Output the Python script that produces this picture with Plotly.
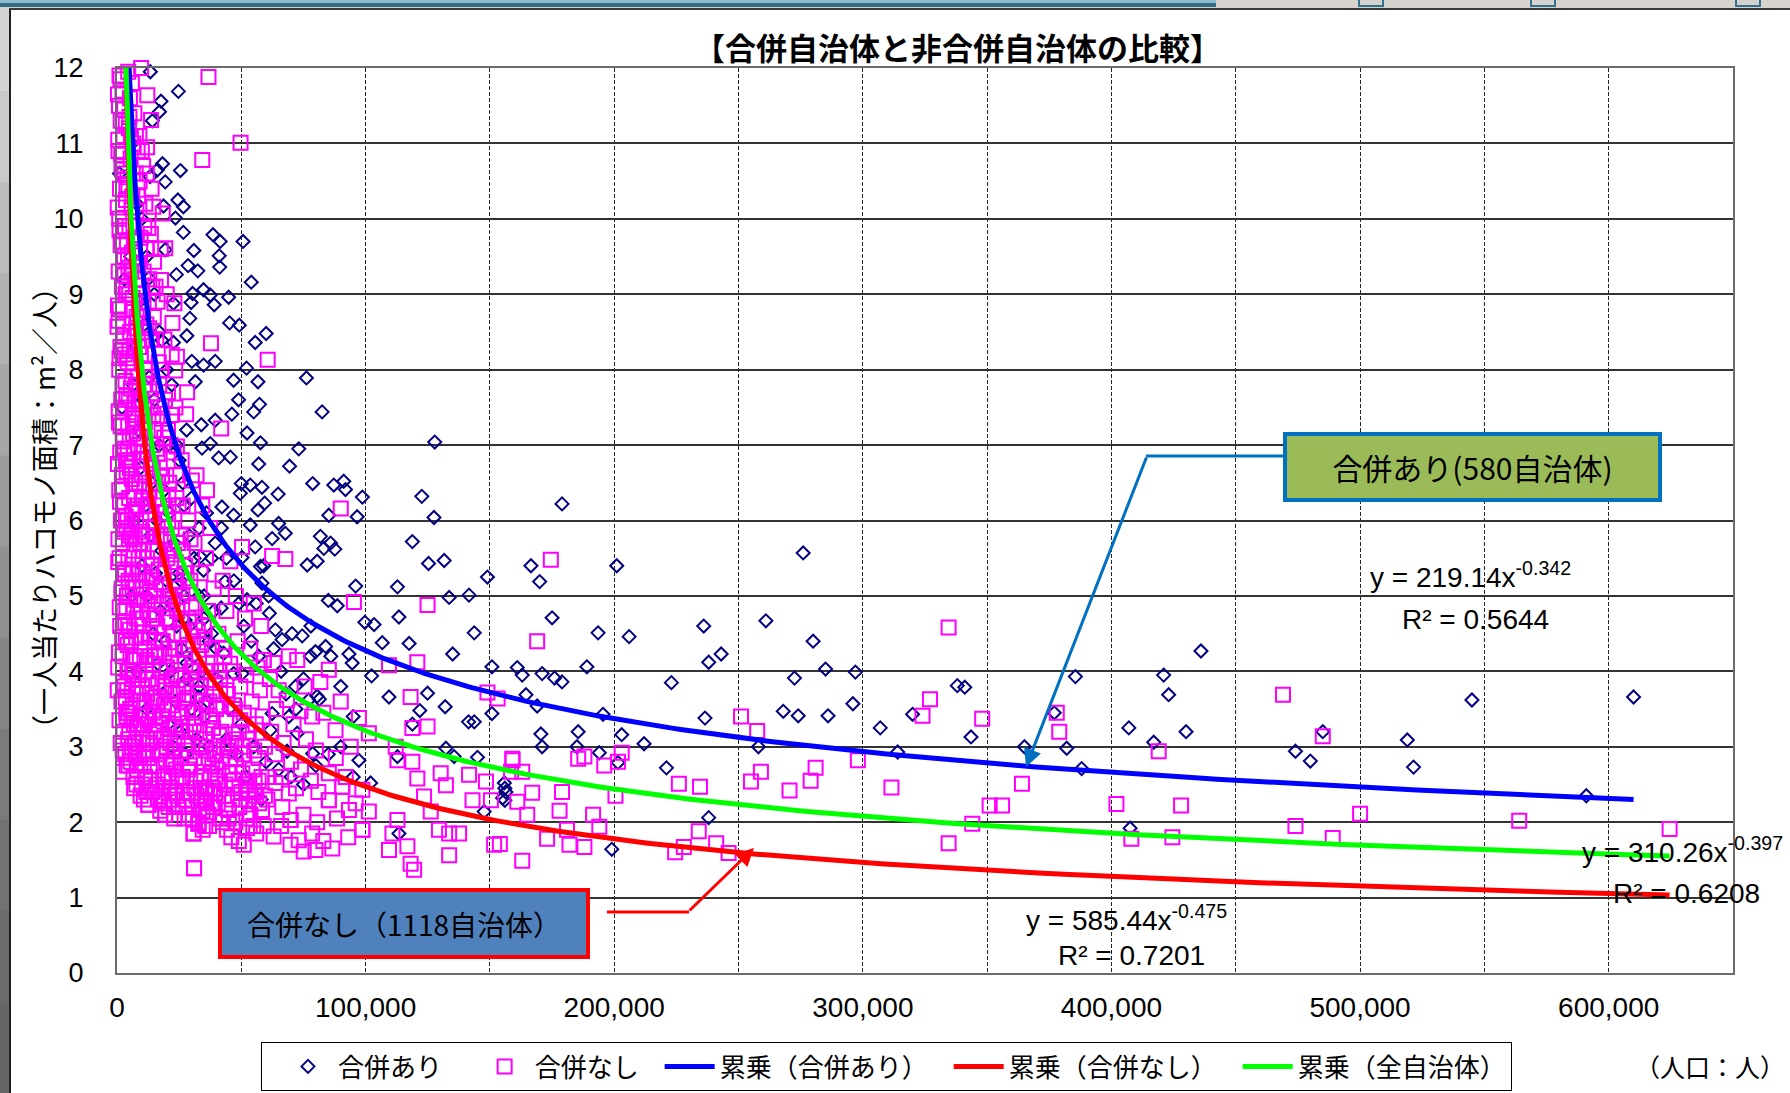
import numpy as np
import plotly.graph_objects as go

# ---------------------------------------------------------------------------
# Data: population (thousands of people) and building floor area per person (m2)
# ---------------------------------------------------------------------------

# municipalities that went through a merger (合併あり)
merged_core = [
    (6.0, 11.0), (8.0, 10.2), (5.5, 9.5), (9.0, 8.9), (7.5, 8.3), (11.0, 8.6), (6.5, 7.8), (10.5, 7.6),
    (13.0, 7.9), (8.5, 7.2), (12.5, 7.0), (15.0, 7.6), (9.5, 6.7), (14.0, 6.5), (17.0, 7.0), (11.5, 6.2),
    (16.0, 6.0), (19.0, 6.4), (13.5, 5.8), (18.0, 5.6), (21.0, 6.1), (10.0, 5.4), (15.5, 5.3), (20.0, 5.2),
    (23.0, 5.7), (12.0, 5.0), (17.5, 4.8), (22.0, 4.9), (25.0, 5.3), (14.5, 4.5), (19.5, 4.4), (24.0, 4.6),
    (27.0, 5.0), (16.5, 4.1), (21.5, 4.0), (26.0, 4.3), (29.0, 4.6), (18.5, 3.7), (23.5, 3.6), (28.0, 3.9),
    (31.0, 4.2), (20.5, 3.3), (25.5, 3.2), (30.0, 3.5), (33.0, 3.8), (22.5, 3.0), (27.5, 2.9), (32.0, 3.1),
    (35.0, 3.4), (37.0, 3.0), (12.0, 3.5), (8.0, 4.0), (6.0, 5.0), (7.0, 6.0), (24.0, 7.0), (26.5, 6.5),
    (22.0, 7.8), (28.0, 7.2), (30.0, 6.3), (33.0, 5.9), (36.0, 6.1), (38.0, 5.5), (35.0, 5.0), (39.0, 4.8),
    (37.0, 4.4), (34.0, 4.0), (36.5, 3.6), (40.0, 3.9), (45.0, 3.5), (50.0, 3.3), (55.0, 3.0), (60.0, 2.8),
    (52.0, 2.6), (65.0, 2.7), (70.0, 2.6), (75.0, 2.5), (80.0, 2.75), (85.0, 2.9), (90.0, 3.0), (95.0, 2.6),
    (58.0, 2.3), (48.0, 2.9), (44.0, 3.1),
    (10.0, 10.0), (12.0, 9.5), (15.0, 9.0), (17.0, 8.5), (20.0, 8.0), (21.0, 7.0), (25.0, 6.8), (27.0, 6.2),
    (29.0, 5.8), (31.0, 5.5), (33.0, 5.0), (35.0, 4.7), (38.0, 4.5), (40.0, 4.3), (42.0, 5.9), (44.0, 5.5),
    (47.0, 5.2), (49.0, 4.9), (51.0, 4.6), (54.0, 4.4), (56.0, 4.9), (59.0, 5.4), (61.0, 5.0), (63.0, 4.3),
    (66.0, 4.0), (68.0, 3.7), (72.0, 3.5), (75.0, 3.9), (78.0, 4.6), (86.0, 4.2), (90.0, 3.8), (95.0, 3.4),
    (1.0, 10.6), (2.0, 7.5), (3.0, 9.2),
]
merged_upper = [
    (13.4, 11.95), (24.7, 11.69), (17.7, 11.56), (17.1, 11.42), (14.2, 11.30), (18.3, 10.73), (25.5, 10.64),
    (16.3, 10.65), (19.4, 10.49), (13.3, 10.56), (24.5, 10.25), (26.7, 10.16), (18.7, 10.17), (23.5, 10.01),
    (26.7, 9.82), (38.6, 9.79), (41.5, 9.70), (50.7, 9.70), (30.9, 9.58), (19.4, 9.59), (41.1, 9.51),
    (41.3, 9.36), (28.6, 9.38), (32.5, 9.31), (23.9, 9.26), (54.0, 9.16), (12.8, 9.21), (30.4, 9.01),
    (34.8, 9.06), (37.5, 8.99), (39.1, 8.86), (44.9, 8.96), (29.8, 8.89), (22.7, 8.88), (45.3, 8.62),
    (49.2, 8.59), (29.3, 8.68), (60.0, 8.48), (55.6, 8.36), (28.1, 8.45), (22.7, 8.36), (18.0, 8.39),
    (39.5, 8.11), (34.8, 8.06), (30.1, 8.11), (52.1, 8.02), (46.9, 7.86), (56.7, 7.84), (31.5, 7.84),
    (76.2, 7.89), (48.9, 7.60), (57.3, 7.54), (55.0, 7.44), (46.2, 7.41), (82.5, 7.44), (39.5, 7.33),
    (33.9, 7.27), (52.3, 7.16), (57.7, 7.03), (73.1, 6.95), (127.8, 7.04), (69.4, 6.72), (57.0, 6.75),
    (45.6, 6.84), (40.9, 6.83), (37.5, 7.02), (34.2, 6.96), (78.7, 6.49), (87.2, 6.47), (91.2, 6.52),
    (91.9, 6.41), (98.7, 6.31), (64.8, 6.35), (58.3, 6.44), (53.6, 6.47), (50.0, 6.49), (122.6, 6.32),
    (59.4, 6.23), (49.6, 6.36), (42.2, 6.18), (46.9, 6.07), (85.2, 6.07), (96.6, 6.05), (127.5, 6.04),
]
merged_mid = [
    (56.7, 6.14), (65.0, 5.96), (53.6, 5.94), (67.7, 5.83), (62.4, 5.76), (55.6, 5.65), (81.8, 5.79),
    (85.9, 5.70), (83.2, 5.63), (87.6, 5.62), (76.5, 5.41), (80.5, 5.46), (118.8, 5.72), (125.3, 5.43),
    (131.6, 5.47), (149.0, 5.25), (96.0, 5.13), (112.8, 5.12), (85.0, 4.94), (88.6, 4.87), (99.7, 4.65),
    (103.4, 4.62), (113.4, 4.72), (133.6, 4.98), (141.6, 5.01), (143.7, 4.51), (106.7, 4.38), (117.5, 4.37),
    (135.0, 4.23), (150.8, 4.06), (102.4, 3.94), (109.4, 3.66), (124.9, 3.71), (132.0, 3.53), (143.7, 3.33),
    (150.8, 3.44), (121.8, 3.48), (118.8, 3.30), (94.6, 4.11), (93.3, 4.23), (80.5, 3.67), (83.9, 4.33),
    (79.8, 4.26), (77.8, 4.20), (70.4, 4.50), (74.5, 4.47), (63.7, 4.55), (66.4, 4.42), (71.8, 3.80),
    (77.1, 3.62), (81.4, 3.63), (78.7, 2.91), (141.4, 3.33), (155.8, 2.52), (156.4, 2.40), (155.1, 2.32),
    (147.7, 2.14), (135.6, 2.87), (132.3, 2.98), (145.0, 2.86), (97.3, 2.82), (102.0, 2.52), (112.8, 2.87),
    (113.4, 1.85), (58.3, 5.17), (52.3, 4.95), (61.3, 4.77), (43.5, 5.19), (41.9, 4.84), (57.7, 5.39),
    (50.3, 5.51), (39.5, 5.70), (33.5, 5.52), (34.8, 5.34), (57.0, 4.20), (50.3, 3.97), (69.1, 3.40),
    (62.4, 3.44), (61.7, 3.22), (68.4, 2.94), (72.5, 3.18), (32.8, 3.66), (28.1, 4.11), (27.4, 4.68),
    (25.4, 5.21), (42.9, 4.24), (46.9, 3.97),
]
merged_large = [
    (179.0, 6.22), (276.0, 5.57), (166.5, 5.40), (170.0, 5.19), (201.0, 5.40), (175.0, 4.71), (193.5, 4.51),
    (206.0, 4.46), (236.0, 4.60), (261.0, 4.67), (280.0, 4.40), (238.0, 4.12), (243.0, 4.23), (161.0, 4.05),
    (163.0, 3.95), (171.0, 3.97), (176.0, 3.91), (179.0, 3.86), (189.0, 4.06), (223.0, 3.85), (285.0, 4.03),
    (297.0, 3.99), (272.5, 3.91), (164.5, 3.69), (169.0, 3.54), (195.5, 3.43), (236.5, 3.38), (268.0, 3.47),
    (274.0, 3.41), (286.0, 3.41), (296.0, 3.57), (307.0, 3.25), (320.0, 3.43), (338.0, 3.81), (341.0, 3.79),
    (385.5, 3.93), (343.5, 3.13), (421.0, 3.95), (423.0, 3.69), (436.0, 4.27), (407.0, 3.25), (430.0, 3.20),
    (417.0, 3.06), (377.0, 3.45), (365.0, 3.00), (382.0, 2.98), (388.0, 2.71), (314.0, 2.93), (170.5, 3.17),
    (171.0, 3.00), (185.5, 3.20), (185.0, 3.00), (203.0, 3.16), (212.0, 3.04), (194.0, 2.92), (201.5, 2.79),
    (258.0, 3.00), (221.0, 2.72), (156.0, 2.45), (156.0, 2.29), (238.0, 2.06), (199.0, 1.64), (407.5, 1.92),
    (474.0, 2.94), (480.0, 2.81), (485.0, 3.20), (519.0, 3.09), (521.5, 2.73), (545.0, 3.62), (610.0, 3.66),
    (591.0, 2.35),
]

# municipalities without a merger (合併なし)
unmerged_small = [
    (1.0, 11.9), (2.2, 11.7), (0.8, 11.5), (1.5, 11.3), (2.6, 11.1), (0.6, 10.9), (1.8, 10.7), (3.0, 10.6),
    (1.2, 10.4), (2.4, 10.2), (0.9, 10.0), (3.2, 9.9), (1.6, 9.7), (2.8, 9.5), (0.7, 9.3), (2.0, 9.1),
    (3.4, 9.0), (1.1, 8.8), (0.2, 8.57), (2.5, 8.6), (1.4, 8.3), (3.1, 8.2), (0.9, 8.0), (2.2, 7.8),
    (1.7, 7.6), (3.3, 7.5), (0.8, 7.3), (2.6, 7.1), (1.3, 6.9), (3.6, 6.8), (2.0, 6.6), (0.9, 6.4),
    (2.9, 6.2), (1.6, 6.0), (3.8, 5.9), (2.3, 5.7), (1.0, 5.5), (3.2, 5.3), (1.9, 5.1), (4.0, 5.0),
    (2.7, 4.8), (1.3, 4.6), (3.5, 4.4), (2.2, 4.2), (4.2, 4.0), (3.0, 3.8), (1.8, 3.6), (3.9, 3.4),
    (2.6, 3.2), (4.5, 3.1), (3.3, 2.9), (2.5, 2.67),
    (4.5, 11.95), (6.0, 11.8), (5.2, 11.6), (7.0, 11.4), (4.8, 11.2), (6.5, 11.0), (5.5, 10.8), (7.5, 10.6),
    (4.6, 10.4), (6.2, 10.3), (7.8, 10.1), (5.0, 9.9), (6.8, 9.7), (4.4, 9.5), (5.8, 9.3), (7.3, 9.2),
    (4.9, 9.0), (6.4, 8.8), (7.9, 8.7), (5.3, 8.5), (6.9, 8.3), (4.3, 8.1), (5.9, 7.9), (7.6, 7.8),
    (4.7, 7.6), (6.3, 7.4), (7.9, 7.3), (5.1, 7.1), (6.7, 6.9), (4.4, 6.8), (5.7, 6.6), (7.3, 6.5),
    (4.9, 6.3), (6.1, 6.1), (7.7, 6.0), (5.4, 5.8), (6.9, 5.6), (4.6, 5.5), (5.9, 5.3), (7.5, 5.2),
    (5.0, 5.0), (6.5, 4.8), (7.9, 4.7), (4.5, 4.6), (5.6, 4.4), (7.1, 4.2), (4.8, 4.0), (6.2, 3.9),
    (7.6, 3.7), (5.3, 3.5), (6.8, 3.3), (4.9, 3.2), (6.0, 3.0), (7.4, 2.9), (5.5, 2.8), (6.6, 2.6),
]
unmerged_dense = [
    (1.4, 11.85), (2.9, 11.45), (0.5, 11.05), (2.1, 10.65), (3.6, 10.25), (1.0, 9.85), (2.5, 9.45),
    (3.9, 9.05), (0.6, 8.65), (1.9, 8.25), (3.4, 7.85), (0.7, 7.45), (2.3, 7.05), (3.9, 6.65), (1.2, 6.25),
    (2.8, 5.85), (0.5, 5.45), (1.8, 5.05), (3.3, 4.65), (0.8, 4.25), (2.4, 3.85), (3.7, 3.45), (1.5, 3.05),
    (5.0, 11.35), (6.7, 10.95), (4.2, 10.55), (5.9, 10.15), (7.3, 9.75), (4.6, 9.35), (6.3, 8.95),
    (7.7, 8.55), (4.1, 8.15), (5.6, 7.75), (7.2, 7.35), (4.3, 6.95), (6.0, 6.55), (7.6, 6.15), (4.8, 5.75),
    (6.4, 5.35), (7.8, 4.95), (5.2, 4.55), (6.6, 4.15), (4.1, 3.75), (5.8, 3.35), (7.2, 3.05), (4.6, 2.75),
    (6.9, 2.45), (8.0, 2.7),
    (9.1, 10.5), (11.4, 10.2), (13.6, 9.8), (8.4, 9.4), (10.7, 9.3), (12.8, 8.9), (14.8, 8.7), (9.9, 8.5),
    (11.9, 8.2), (13.9, 7.9), (8.3, 7.9), (10.3, 7.4), (12.3, 7.2), (14.4, 6.7), (9.1, 6.8), (11.0, 6.45),
    (13.2, 6.1), (15.0, 6.3), (8.2, 6.2), (10.1, 5.85), (12.1, 5.5), (14.1, 5.25), (9.0, 5.3), (11.0, 4.95),
    (13.0, 4.75), (15.0, 4.4), (8.4, 4.95), (10.0, 4.45), (12.0, 4.15), (14.0, 3.9), (9.0, 3.95),
    (11.0, 3.6), (13.0, 3.35), (15.0, 3.65), (8.5, 3.3), (10.4, 3.1), (12.4, 2.85), (14.4, 2.95),
    (9.4, 2.75), (11.8, 2.4), (13.8, 2.55), (10.8, 2.3),
    (16.8, 8.1), (19.3, 7.6), (21.5, 7.0), (23.8, 6.6), (16.0, 6.95), (18.3, 6.3), (20.6, 6.0), (22.9, 5.55),
    (24.9, 5.1), (16.8, 5.35), (19.0, 5.0), (21.2, 4.65), (23.4, 4.3), (15.8, 4.75), (17.9, 4.4),
    (20.1, 4.05), (22.3, 3.75), (24.5, 3.45), (16.6, 3.85), (18.8, 3.55), (21.0, 3.25), (23.2, 2.95),
    (15.4, 3.4), (17.6, 3.1), (19.8, 2.8), (22.0, 2.55), (24.2, 2.35), (16.4, 2.75), (18.6, 2.45),
    (20.8, 2.2), (23.0, 2.05), (17.4, 2.15),
    (26.5, 5.6), (28.9, 5.05), (31.4, 4.65), (33.9, 4.35), (36.4, 4.1), (38.9, 3.7), (26.0, 4.7),
    (28.5, 4.35), (31.0, 4.05), (33.5, 3.8), (36.0, 3.55), (38.5, 3.35), (25.8, 3.95), (28.3, 3.65),
    (30.8, 3.45), (33.3, 3.2), (35.8, 2.95), (38.3, 2.75), (26.2, 3.4), (28.7, 3.05), (31.2, 2.85),
    (33.7, 2.6), (36.2, 2.4), (38.7, 2.2), (27.0, 2.3), (29.5, 2.55), (32.0, 2.35), (34.5, 2.15),
    (37.0, 1.95), (29.0, 2.1),
    (41.2, 4.0), (44.0, 3.75), (46.8, 3.55), (49.6, 3.35), (52.4, 3.2), (55.2, 2.95), (42.0, 3.2),
    (44.8, 3.0), (47.6, 2.85), (50.4, 2.65), (53.2, 2.55), (56.0, 2.35), (40.8, 2.7), (43.6, 2.5),
    (46.4, 2.3), (49.2, 2.2), (52.0, 2.05), (54.8, 1.95), (46.0, 1.8), (51.0, 1.7), (57.0, 2.55),
    (59.5, 2.35),
]
unmerged_fill = [
    (0.4, 11.65), (3.5, 11.25), (1.7, 10.85), (3.8, 10.45), (0.3, 10.15), (1.5, 9.65), (3.0, 9.25),
    (0.4, 8.85), (2.7, 8.45), (1.0, 8.15), (3.7, 7.65), (1.5, 7.25), (3.0, 6.95), (0.4, 6.75), (2.0, 6.45),
    (3.5, 6.05), (0.6, 5.75), (2.6, 5.35), (3.8, 4.85), (1.1, 4.85), (2.1, 4.45), (0.5, 4.05), (3.5, 3.65),
    (1.0, 3.35), (2.3, 2.95), (3.9, 2.75), (0.3, 3.75),
    (5.6, 11.1), (7.6, 11.1), (4.0, 9.7), (6.0, 9.55), (7.0, 8.45), (5.0, 8.25), (7.0, 7.55), (4.5, 7.25),
    (6.5, 7.15), (5.2, 6.7), (7.0, 6.3), (4.2, 6.0), (5.9, 5.95), (7.2, 5.75), (4.7, 5.2), (6.3, 5.1),
    (7.7, 4.45), (5.4, 4.2), (4.3, 4.35), (6.9, 3.95), (4.5, 3.45), (6.3, 3.55), (7.9, 3.25), (5.1, 2.95),
    (7.8, 2.5),
    (8.3, 10.9), (10.0, 10.9), (12.0, 10.6), (13.9, 10.4), (9.5, 9.75), (11.8, 9.6), (14.2, 9.1), (10.5, 8.7),
    (12.9, 8.55), (8.9, 8.3), (11.2, 8.0), (13.0, 7.75), (9.8, 7.6), (11.9, 7.5), (14.6, 7.4), (8.4, 7.0),
    (10.8, 6.9), (13.7, 6.75), (9.9, 6.3), (12.5, 6.2), (14.4, 5.6), (9.3, 5.7), (11.6, 5.8), (13.3, 5.05),
    (10.3, 5.3), (12.7, 4.45), (9.7, 4.8), (14.8, 4.7), (11.5, 4.0), (13.5, 4.2), (9.6, 3.6), (12.1, 3.7),
    (14.5, 3.45), (10.8, 3.3), (13.2, 3.05), (8.8, 3.05), (11.5, 2.9), (13.0, 2.45), (9.5, 2.35),
    (17.6, 9.6), (20.0, 9.0), (15.5, 9.1), (22.0, 8.2), (19.1, 8.4), (17.0, 7.8), (23.5, 7.5), (20.5, 7.2),
    (18.3, 7.35), (16.5, 6.5), (22.5, 6.2), (19.8, 6.6), (24.8, 6.2), (17.6, 6.1), (21.4, 5.6), (19.2, 5.75),
    (16.0, 5.8), (23.6, 5.45), (18.0, 5.15), (20.2, 4.9), (22.4, 4.95), (16.9, 4.2), (19.1, 4.25),
    (21.5, 4.2), (23.8, 3.95), (17.5, 3.65), (19.9, 3.75), (22.1, 3.55), (24.6, 3.7), (16.8, 3.3),
    (19.0, 3.15), (21.4, 3.05), (23.6, 3.25), (18.1, 2.95), (20.5, 2.65), (22.7, 2.75), (24.8, 2.6),
    (16.6, 2.3), (19.0, 2.25), (21.4, 2.45), (23.7, 2.4),
    (26.4, 6.2), (29.6, 5.75), (27.0, 5.3), (30.0, 4.85), (32.5, 4.55), (35.2, 4.45), (37.8, 4.0),
    (27.2, 4.3), (29.6, 4.0), (32.1, 3.9), (34.6, 3.6), (37.3, 3.4), (39.8, 3.5), (27.0, 3.6), (29.4, 3.2),
    (31.9, 3.2), (34.4, 3.0), (36.9, 2.85), (39.6, 2.6), (26.0, 2.85), (28.6, 2.7), (31.1, 2.45),
    (33.6, 2.45), (36.1, 2.25), (38.6, 2.45), (40.5, 2.25), (42.7, 2.0), (28.0, 2.2), (30.5, 2.05),
    (33.0, 2.1), (35.5, 1.95), (41.5, 3.7), (43.0, 3.0), (45.5, 2.85), (42.5, 4.3), (45.5, 4.1), (48.0, 3.1),
    (50.5, 3.0), (47.0, 2.55), (53.0, 2.3), (45.0, 2.05), (50.0, 2.4),
]
unmerged_town = [
    (9.7, 12.0), (12.2, 11.64), (13.7, 11.31), (12.1, 10.95), (9.0, 11.1), (10.5, 10.7), (14.6, 10.16),
    (12.6, 9.88), (14.9, 9.43), (8.5, 10.3), (11.0, 9.9), (9.3, 9.6), (13.0, 9.2), (10.2, 9.0), (8.8, 8.8),
    (11.8, 8.6), (14.0, 8.4), (9.6, 8.2), (12.4, 8.0), (10.8, 7.8), (8.6, 7.6), (13.5, 7.5), (11.2, 7.3),
    (9.4, 7.1), (14.3, 7.0), (12.0, 6.8), (10.0, 6.6), (8.9, 6.5), (13.1, 6.4), (11.5, 6.2), (9.8, 6.0),
    (14.6, 5.9), (12.7, 5.8), (10.6, 5.6), (8.7, 5.5), (13.8, 5.4), (11.9, 5.2), (9.5, 5.1), (14.8, 5.0),
    (12.3, 4.9), (10.4, 4.7), (8.8, 4.6), (13.4, 4.5), (11.1, 4.3), (9.2, 4.2), (14.4, 4.1), (12.6, 3.9),
    (10.1, 3.8), (8.6, 3.7), (13.9, 3.6), (11.6, 3.4), (9.7, 3.3), (14.7, 3.2), (12.2, 3.1), (10.6, 2.95),
    (8.9, 2.85), (13.2, 2.75), (11.3, 2.6), (9.9, 2.5), (12.6, 2.23), (14.2, 2.4),
    (18.4, 10.07), (19.4, 9.61), (17.7, 9.19), (16.3, 8.9), (23.1, 8.88), (22.3, 8.62), (15.8, 8.4),
    (24.1, 8.17), (23.4, 7.99), (18.0, 8.0), (20.5, 7.7), (16.5, 7.5), (21.8, 7.4), (24.1, 6.98),
    (16.3, 6.89), (18.0, 6.58), (20.7, 6.34), (15.5, 7.2), (19.0, 7.1), (22.8, 6.9), (17.2, 6.7),
    (21.0, 6.5), (23.9, 6.3), (15.9, 6.2), (19.6, 6.1), (22.0, 5.9), (17.6, 5.8), (24.5, 5.7), (16.4, 5.6),
    (20.2, 5.5), (18.8, 5.3), (23.0, 5.2), (15.6, 5.1), (21.4, 5.0), (17.9, 4.9), (24.2, 4.8), (19.7, 4.7),
    (16.2, 4.6), (22.6, 4.5), (18.4, 4.4), (20.9, 4.3), (15.4, 4.2), (24.7, 4.1), (17.3, 4.0), (21.8, 3.9),
    (19.1, 3.8), (23.5, 3.7), (16.0, 3.6), (20.4, 3.5), (18.1, 3.4), (22.9, 3.3), (15.8, 3.2), (24.4, 3.1),
    (19.8, 3.0), (17.0, 2.9), (21.6, 2.8), (23.8, 2.7), (18.6, 2.6), (16.3, 2.5), (20.8, 2.4), (22.4, 2.3),
    (19.4, 2.1), (24.8, 2.2), (17.5, 2.35),
]
unmerged_city = [
    (36.8, 11.88), (49.7, 11.01), (34.3, 10.78), (37.8, 8.35), (41.9, 7.22),
    (28.2, 7.70), (27.8, 7.41), (30.1, 6.53), (36.2, 6.40), (26.0, 6.8), (32.0, 6.6), (34.3, 6.2),
    (28.7, 6.0), (37.5, 5.9), (25.6, 5.8), (31.2, 5.7), (35.8, 5.5), (27.4, 5.4), (33.6, 5.3), (29.5, 5.2),
    (38.9, 5.1), (26.3, 5.0), (31.8, 4.9), (36.7, 4.8), (28.8, 4.7), (34.9, 4.6), (25.9, 4.5), (30.6, 4.4),
    (38.2, 4.3), (33.0, 4.2), (27.5, 4.1), (35.7, 4.0), (29.9, 3.9), (39.5, 3.85), (26.8, 3.8), (32.4, 3.7),
    (37.1, 3.6), (28.3, 3.5), (34.2, 3.4), (30.9, 3.3), (38.6, 3.25), (25.7, 3.2), (36.0, 3.1), (32.9, 3.0),
    (27.9, 2.95), (39.3, 2.9), (34.8, 2.8), (29.4, 2.75), (37.6, 2.65), (26.5, 2.6), (31.5, 2.55),
    (35.4, 2.45), (28.6, 2.4), (33.8, 2.3), (38.0, 2.25), (30.2, 2.2), (36.8, 2.1), (27.2, 2.05), (32.8, 2.0),
    (35.5, 2.29), (39.5, 2.38), (30.8, 1.85), (32.8, 1.98), (31.0, 1.39), (34.5, 1.9),
    (50.3, 5.65), (45.6, 5.46), (42.5, 5.2), (47.8, 5.0), (55.0, 4.9), (44.0, 4.8), (51.5, 4.7), (58.0, 4.6),
    (40.8, 4.5), (48.5, 4.4), (53.6, 4.3), (59.0, 4.15), (43.2, 4.2), (56.5, 4.05), (46.7, 4.0), (52.0, 3.95),
    (41.5, 3.9), (49.6, 3.8), (57.5, 3.75), (44.6, 3.7), (54.2, 3.6), (40.3, 3.55), (47.4, 3.5), (51.0, 3.45),
    (58.6, 3.4), (43.8, 3.35), (55.8, 3.3), (49.0, 3.2), (41.0, 3.15), (53.0, 3.1), (46.0, 3.05), (59.5, 3.0),
    (44.3, 2.95), (50.7, 2.9), (56.9, 2.85), (42.2, 2.8), (48.0, 2.75), (54.6, 2.7), (45.3, 2.65),
    (58.1, 2.6), (40.6, 2.55), (51.8, 2.5), (47.0, 2.45), (55.3, 2.4), (43.0, 2.35), (52.9, 2.43),
    (49.8, 2.3), (57.2, 2.25), (44.9, 2.16), (53.6, 2.10), (58.3, 2.16), (41.5, 2.05), (47.6, 2.0),
    (52.3, 1.92), (44.2, 1.90), (56.0, 1.85), (49.0, 1.75), (59.0, 1.95),
]
unmerged_large = [
    (60.6, 8.13), (62.4, 5.53), (67.7, 5.49), (63.0, 4.11), (59.0, 4.15), (69.1, 4.20), (72.5, 4.15),
    (85.2, 4.02), (81.8, 3.86), (68.4, 3.62), (73.8, 3.47), (78.5, 3.40), (97.3, 3.38), (87.9, 3.22),
    (101.3, 3.18), (61.5, 3.9), (65.0, 3.75), (75.5, 3.8), (90.0, 3.6), (64.0, 3.5), (71.0, 3.3), (83.0, 3.45),
    (94.0, 3.0), (62.0, 3.2), (67.0, 3.05), (76.0, 3.1), (80.0, 2.95), (88.0, 2.85), (63.5, 2.9), (70.0, 2.8),
    (74.0, 2.7), (85.2, 2.65), (66.0, 2.6), (78.0, 2.55), (92.0, 2.6), (63.7, 2.52), (69.1, 2.38), (72.0, 2.45),
    (81.0, 2.4), (90.6, 2.47), (98.7, 2.43), (85.2, 2.29), (93.3, 2.16), (60.5, 2.3), (66.5, 2.2), (69.8, 2.03),
    (75.0, 2.1), (80.5, 2.0), (88.5, 2.05), (96.0, 2.25), (63.0, 1.81), (69.8, 1.70), (73.1, 1.76), (75.1, 1.61),
    (78.5, 1.85), (79.8, 1.63), (86.6, 1.65), (98.7, 1.90), (93.0, 1.8), (83.0, 1.75), (90.0, 6.16), (95.3, 4.92),
    (66.0, 1.95), (61.0, 2.6),
    (124.9, 4.88), (109.4, 4.08), (120.8, 4.12), (118.1, 3.66), (149.0, 3.72), (153.1, 3.64), (112.1, 3.00),
    (118.8, 3.25), (124.9, 3.27), (112.8, 2.82), (118.8, 2.80), (130.2, 2.65), (132.3, 2.49), (141.6, 2.63),
    (148.4, 2.54), (159.1, 2.82), (158.5, 2.67), (120.8, 2.58), (123.5, 2.34), (126.2, 2.14), (143.0, 2.29),
    (150.4, 2.29), (129.5, 1.90), (133.6, 1.85), (137.6, 1.85), (133.6, 1.56), (151.7, 1.70), (109.4, 1.63),
    (116.8, 1.68), (118.1, 1.45), (119.5, 1.37), (110.8, 1.85), (112.8, 2.03), (101.3, 2.14), (98.7, 1.90),
    (12.6, 2.23), (19.4, 2.10), (53.6, 2.10), (58.3, 2.16), (69.8, 2.03), (85.2, 2.29), (90.6, 2.47),
    (52.9, 2.43), (44.9, 2.16), (39.5, 2.38), (35.5, 2.29), (30.8, 1.85), (32.8, 1.98), (31.0, 1.39),
    (174.5, 5.48), (169.0, 4.40), (334.5, 4.58), (327.0, 3.63), (324.0, 3.41), (348.0, 3.37), (378.0, 3.45),
    (379.0, 3.20), (419.0, 2.94), (251.0, 3.40), (257.5, 3.21), (298.0, 2.82), (281.0, 2.72), (279.0, 2.55),
    (259.0, 2.67), (255.0, 2.54), (270.5, 2.42), (226.0, 2.51), (234.5, 2.47), (311.5, 2.46), (364.0, 2.51),
    (351.0, 2.22), (356.0, 2.22), (402.0, 2.24), (428.0, 2.22), (344.0, 1.98), (334.5, 1.72), (408.0, 1.78),
    (424.5, 1.80), (203.0, 2.92), (201.5, 2.80), (196.0, 2.75), (188.0, 2.87), (185.5, 2.84), (159.0, 2.84),
    (163.0, 2.67), (179.0, 2.40), (167.0, 2.39), (161.0, 2.27), (200.5, 2.35), (178.0, 2.15), (165.0, 2.10),
    (191.5, 2.10), (194.0, 1.94), (181.0, 1.90), (173.0, 1.78), (182.0, 1.70), (188.0, 1.67), (163.0, 1.49),
    (234.0, 1.88), (228.0, 1.67), (224.5, 1.60), (241.0, 1.72), (246.0, 1.59), (154.0, 1.71),
    (469.0, 3.69), (485.0, 3.14), (474.0, 1.95), (489.0, 1.79), (500.0, 2.11), (564.0, 2.02), (624.5, 1.91),
]

# power-law trendlines: y = a * x^b (x in people), with R^2
fit_merged = (219.14, -0.342, 0.5644)
fit_unmerged = (585.44, -0.475, 0.7201)
fit_all = (310.26, -0.397, 0.6208)

series_names = ["合併あり", "合併なし", "累乗（合併あり）", "累乗（合併なし）", "累乗（全自治体）"]
x_tick_values = [0, 100000, 200000, 300000, 400000, 500000, 600000]

# ---------------------------------------------------------------------------
W, H = 1790, 1093
PL, PR, PT, PB = 117, 1733, 68, 973          # plot area edges in pixels
X_MAX, Y_MAX = 650000, 12

FONT = "Liberation Sans, Arial, Noto Sans CJK JP, sans-serif"
JP = "Noto Sans CJK JP, sans-serif"
NB = "\u00a0"

merged = merged_core + merged_upper + merged_mid + merged_large
unmerged = unmerged_small + unmerged_dense + unmerged_fill + unmerged_town + unmerged_city + unmerged_large
mx = np.array([p[0] for p in merged]) * 1000
my = np.array([p[1] for p in merged])
ux = np.array([p[0] for p in unmerged]) * 1000
uy = np.array([p[1] for p in unmerged])


def px_to_paper_x(px):
    return (px - PL) / (PR - PL)


def px_to_paper_y(py):
    return (PB - py) / (PB - PT)


def px_to_data_x(px):
    return (px - PL) / (PR - PL) * X_MAX


def px_to_data_y(py):
    return (PB - py) / (PB - PT) * Y_MAX


def power_curve(fit, x_lo, x_hi):
    a, b, _ = fit
    xs = np.geomspace(x_lo, x_hi, 500)
    return xs, a * xs ** b


fig = go.Figure()

fig.add_trace(go.Scatter(
    x=mx, y=my, mode="markers", name=series_names[0] + NB * 2, cliponaxis=False,
    marker=dict(symbol="diamond-open", size=10, color="#000080", line=dict(width=2, color="#000080")),
))
fig.add_trace(go.Scatter(
    x=ux, y=uy, mode="markers", name=series_names[1], cliponaxis=False,
    marker=dict(symbol="square-open", size=14, color="#FF00FF", line=dict(width=2, color="#FF00FF")),
))

all_x = np.concatenate([mx, ux])
for fit, xs_src, color, name in [
    (fit_merged, mx, "#0000FF", series_names[2]),
    (fit_unmerged, ux, "#FF0000", series_names[3]),
    (fit_all, all_x, "#00FF00", series_names[4]),
]:
    cx, cy = power_curve(fit, xs_src.min(), xs_src.max())
    fig.add_trace(go.Scatter(x=cx, y=cy, mode="lines", name=name,
                             line=dict(color=color, width=5)))

annotations = []

# chart title
annotations.append(dict(
    x=px_to_paper_x(958), y=px_to_paper_y(46), xref="paper", yref="paper",
    text="<b>【合併自治体と非合併自治体の比較】</b>", showarrow=False,
    font=dict(family=JP, size=31, color="#000000"), xanchor="center", yanchor="middle",
))
# y axis title
annotations.append(dict(
    x=px_to_paper_x(43), y=px_to_paper_y(508), xref="paper", yref="paper",
    text="（一人当たりハコモノ面積：m²／人）", textangle=-90, showarrow=False,
    font=dict(family=JP, size=27, color="#000000"), xanchor="center", yanchor="middle",
))
# x axis unit
annotations.append(dict(
    x=px_to_paper_x(1787), y=px_to_paper_y(1066), xref="paper", yref="paper",
    text="（人口：人）", showarrow=False,
    font=dict(family=JP, size=25, color="#000000"), xanchor="right", yanchor="middle",
))


# trendline equations
def eq_label(fit, left_px, y_eq_px, y_r2_px, r2_left_px):
    a, b, r2 = fit
    annotations.append(dict(
        x=px_to_data_x(left_px), y=px_to_data_y(y_eq_px), xref="x", yref="y",
        text=f"y = {a:.2f}x<sup>{b:.3f}</sup>", showarrow=False,
        font=dict(family=FONT, size=28, color="#000000"), xanchor="left", yanchor="middle",
    ))
    annotations.append(dict(
        x=px_to_data_x(r2_left_px), y=px_to_data_y(y_r2_px), xref="x", yref="y",
        text=f"R² = {r2:.4f}", showarrow=False,
        font=dict(family=FONT, size=28, color="#000000"), xanchor="left", yanchor="middle",
    ))


eq_label(fit_merged, 1368, 575, 619, 1400)
eq_label(fit_all, 1580, 850, 893, 1611)
eq_label(fit_unmerged, 1024, 918, 955, 1056)

# callout boxes
annotations.append(dict(
    x=px_to_data_x(1472), y=px_to_data_y(467), xref="x", yref="y",
    text="合併あり(580自治体)", showarrow=False,
    font=dict(family=JP, size=30, color="#000000"),
    bgcolor="#9BBB59", bordercolor="#0070C0", borderwidth=4, borderpad=0,
    width=371, height=62, xanchor="center", yanchor="middle",
))
annotations.append(dict(
    x=px_to_data_x(404), y=px_to_data_y(923), xref="x", yref="y",
    text="合併なし（1118自治体）", showarrow=False,
    font=dict(family=JP, size=28, color="#000000"),
    bgcolor="#4F81BD", bordercolor="#FF0000", borderwidth=4, borderpad=0,
    width=364, height=63, xanchor="center", yanchor="middle",
))

# callout arrows (diagonal part)
annotations.append(dict(
    x=px_to_data_x(1026), y=px_to_data_y(767), xref="x", yref="y",
    ax=1147 - 1026, ay=456 - 767, text="", showarrow=True,
    arrowhead=2, arrowsize=1.2, arrowwidth=3, arrowcolor="#0070C0", standoff=0,
))
annotations.append(dict(
    x=px_to_data_x(754), y=px_to_data_y(848), xref="x", yref="y",
    ax=688 - 754, ay=912 - 848, text="", showarrow=True,
    arrowhead=2, arrowsize=1.2, arrowwidth=3, arrowcolor="#FF0000", standoff=0,
))

shapes = []
# callout arrows (horizontal leader part)
shapes.append(dict(type="line", xref="paper", yref="paper",
                   x0=px_to_paper_x(1283), x1=px_to_paper_x(1146),
                   y0=px_to_paper_y(456), y1=px_to_paper_y(456),
                   line=dict(color="#0070C0", width=3)))
shapes.append(dict(type="line", xref="paper", yref="paper",
                   x0=px_to_paper_x(607), x1=px_to_paper_x(689),
                   y0=px_to_paper_y(912), y1=px_to_paper_y(912),
                   line=dict(color="#FF0000", width=3)))

# window frame around the chart: shaded left strip, title bar, border lines
strip_cols = ["#d4d4d4", "#c9c9c9", "#bdbdbd", "#b2b2b2", "#a6a6a6", "#9b9b9b",
              "#909090", "#858585", "#7b7b7b", "#727272", "#6b6b6b", "#666666"]
band = H / len(strip_cols)
for i, c in enumerate(strip_cols):
    shapes.append(dict(type="rect", xref="paper", yref="paper", layer="above",
                       x0=px_to_paper_x(0), x1=px_to_paper_x(9),
                       y0=px_to_paper_y(i * band), y1=px_to_paper_y((i + 1) * band + 1),
                       fillcolor=c, line=dict(width=0)))
shapes.append(dict(type="rect", xref="paper", yref="paper", layer="above",
                   x0=px_to_paper_x(9), x1=px_to_paper_x(11),
                   y0=px_to_paper_y(8), y1=px_to_paper_y(H),
                   fillcolor="#202020", line=dict(width=0)))
shapes.append(dict(type="rect", xref="paper", yref="paper", layer="above",
                   x0=px_to_paper_x(0), x1=px_to_paper_x(W),
                   y0=px_to_paper_y(0), y1=px_to_paper_y(9),
                   fillcolor="#d6d3ce", line=dict(width=0)))
shapes.append(dict(type="rect", xref="paper", yref="paper", layer="above",
                   x0=px_to_paper_x(0), x1=px_to_paper_x(1216),
                   y0=px_to_paper_y(0), y1=px_to_paper_y(3),
                   fillcolor="#8fbccb", line=dict(width=0)))
shapes.append(dict(type="rect", xref="paper", yref="paper", layer="above",
                   x0=px_to_paper_x(0), x1=px_to_paper_x(1216),
                   y0=px_to_paper_y(3), y1=px_to_paper_y(7),
                   fillcolor="#2e6d84", line=dict(width=0)))
shapes.append(dict(type="rect", xref="paper", yref="paper", layer="above",
                   x0=px_to_paper_x(9), x1=px_to_paper_x(W),
                   y0=px_to_paper_y(8), y1=px_to_paper_y(10),
                   fillcolor="#3a3a3a", line=dict(width=0)))
for bx in (1359, 1531, 1736):
    shapes.append(dict(type="rect", xref="paper", yref="paper", layer="above",
                       x0=px_to_paper_x(bx), x1=px_to_paper_x(bx + 24),
                       y0=px_to_paper_y(-4), y1=px_to_paper_y(6),
                       fillcolor="#d6d3ce", line=dict(color="#2e7390", width=2)))

fig.update_layout(
    width=W, height=H, autosize=False,
    margin=dict(l=PL, r=W - PR, t=PT, b=H - PB, pad=0, autoexpand=False),
    paper_bgcolor="#ffffff", plot_bgcolor="#ffffff",
    font=dict(family=FONT, color="#000000"),
    showlegend=True,
    legend=dict(
        orientation="h", x=px_to_paper_x(261), y=px_to_paper_y(1042),
        xanchor="left", yanchor="top", bgcolor="#ffffff",
        bordercolor="#000000", borderwidth=1, indentation=16,
        font=dict(family=JP, size=26, color="#000000"),
        itemwidth=50, itemsizing="trace", tracegroupgap=0,
    ),
    annotations=annotations,
    shapes=shapes,
)

fig.update_xaxes(
    range=[0, X_MAX], tickvals=x_tick_values,
    ticktext=[f"{v:,}" for v in x_tick_values],
    showgrid=True, gridcolor="#222222", gridwidth=1, griddash="4px,2px",
    minor=dict(dtick=50000, tick0=0, showgrid=True, gridcolor="#222222",
               gridwidth=1, griddash="4px,2px"),
    zeroline=False, showline=True, linecolor="#6b6b6b", linewidth=2, mirror=True,
    ticks="", ticklabelstandoff=8,
    tickfont=dict(family=FONT, size=28, color="#000000"),
)
fig.update_yaxes(
    range=[0, Y_MAX], dtick=1, tick0=0,
    showgrid=True, gridcolor="#333333", gridwidth=1.5,
    zeroline=False, showline=True, linecolor="#6b6b6b", linewidth=2, mirror=True,
    ticks="", ticklabelstandoff=26,
    tickfont=dict(family=FONT, size=27, color="#000000"),
)

fig.write_html("out.html")
